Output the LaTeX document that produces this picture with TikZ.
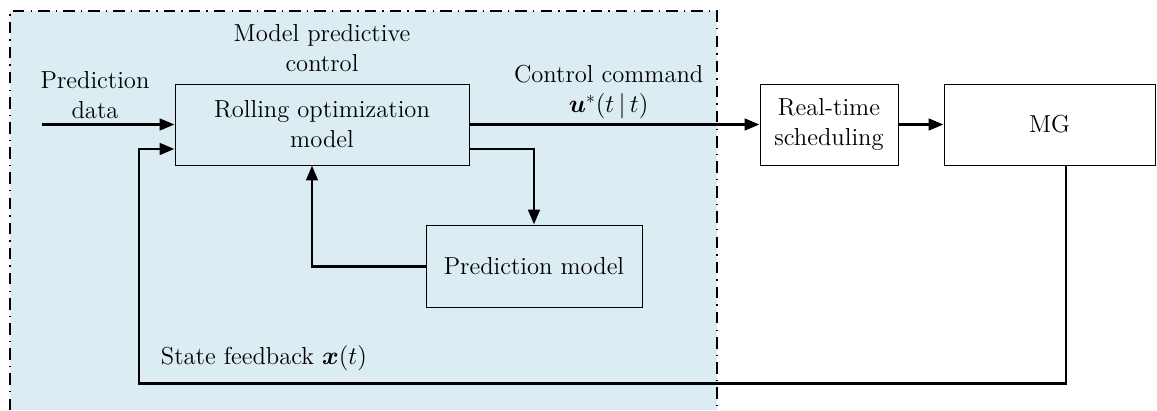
\documentclass[tikz,border=0pt]{standalone}
\usepackage{amsmath,bm}
\usetikzlibrary{arrows.meta}
\definecolor{mpcblue}{RGB}{219,237,243}
\begin{document}
\begin{tikzpicture}[x=0.02cm, y=-0.02cm,
		every node/.style={font=\fontsize{14}{17}\selectfont},
		block/.style={rectangle, draw=black, line width=0.5pt, inner sep=0pt, align=center, minimum height=1.62cm},
		flow/.style={line width=1.7pt, -{Triangle[length=8.5pt,width=6.5pt]}},
		lbl/.style={align=center}]
	\useasboundingbox (0,0) rectangle (1157,410);
	% MPC area
	\fill[mpcblue] (10,11) rectangle (717,410);
	\draw[line width=0.6pt, dash pattern=on 6.5pt off 3.5pt on 0.8pt off 3.5pt] (10,410) -- (10,11) -- (717,11) -- (717,410);
	\node[lbl] (mpc) at (322,48) {Model predictive\\control};
	% blocks
	\node[block, minimum width=5.88cm] (roll) at (322,124.5) {Rolling optimization\\model};
	\node[block, minimum width=4.32cm, minimum height=1.64cm] (pred) at (534,266) {Prediction model};
	\node[block, fill=white, minimum width=2.76cm] (rts) at (829,124.5) {Real-time\\scheduling};
	\node[block, fill=white, minimum width=4.22cm] (mg) at (1049.5,124.5) {MG};
	% signals
	\coordinate (din) at (42,124.5);
	\coordinate (fbl) at (139,383);
	\draw[flow] (din) -- (roll.west) node[lbl, pos=0.4, above=-1pt] {Prediction\\data};
	\draw[flow] (roll.east) -- (rts.west) node[lbl, pos=0.48, above=-1pt] {Control command\\$\bm{u}^{*}(t\,|\,t)$};
	\draw[flow] (rts.east) -- (mg.west);
	\draw[flow] ([yshift=-0.49cm]roll.east) -| (pred.north);
	\draw[flow] (pred.west) -| ([xshift=-0.2cm]roll.south);
	\draw[flow] ([xshift=0.33cm]mg.south) |- (fbl) |- ([yshift=-0.49cm]roll.west);
	\node (fbtxt) at (264,358) {State feedback $\bm{x}(t)$};
\end{tikzpicture}
\end{document}
